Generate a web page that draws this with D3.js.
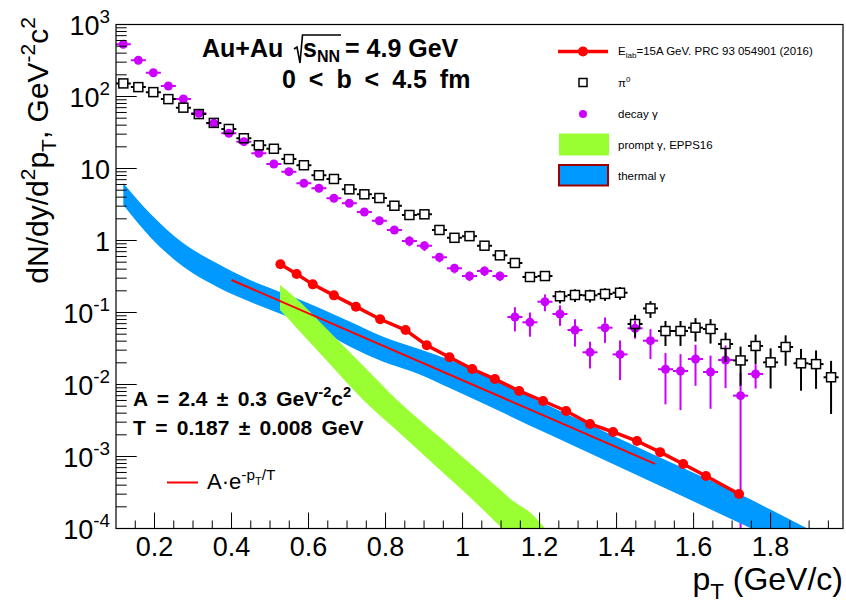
<!DOCTYPE html>
<html><head><meta charset="utf-8">
<script src="https://cdn.jsdelivr.net/npm/d3@7"></script>
<style>body{margin:0;background:#fff}svg{display:block}text{font-family:"Liberation Sans",Arial,Helvetica,sans-serif}</style>
</head><body><svg id="c" width="846" height="607"></svg>
<script>
// ---------------- data ----------------
const binPt = [0.119,0.158,0.197,0.236,0.275,0.315,0.354,0.393,0.432,0.471,0.510,0.549,0.588,0.627,0.666,0.706,0.745,0.784,0.823,0.862,0.901,0.940,0.979,1.018,1.057,1.097,1.136,1.175,1.214,1.253,1.292,1.331,1.370,1.409,1.448,1.488,1.527,1.566,1.605,1.644,1.683,1.722,1.761,1.800,1.839,1.879,1.918,1.957];
const binHalfWidth = 0.0195;
const pi0Val = [152,135,115,92,70,57,43,35.4,26.3,21.0,18.8,13.5,11.1,8.05,7.15,5.14,4.38,3.89,3.04,2.26,2.31,1.40,1.09,1.15,0.847,0.622,0.487,0.311,0.321,0.168,0.175,0.173,0.181,0.188,0.0692,0.114,0.0553,0.0553,0.0615,0.059,0.0365,0.0216,0.0343,0.0203,0.0332,0.0197,0.0192,0.0126];
const pi0Err = [4.6,4.1,3.5,2.8,2.1,1.7,1.3,1.06,0.79,0.63,0.56,0.41,0.33,0.24,0.21,0.15,0.13,0.12,0.09,0.07,0.07,0.14,0.11,0.115,0.085,0.062,0.049,0.04,0.042,0.034,0.035,0.035,0.036,0.038,0.024,0.03,0.021,0.021,0.022,0.022,0.016,0.012,0.015,0.0115,0.015,0.0115,0.0105,0.0087];
const decayVal = [531,318,214,140,92.3,58.4,42.5,30.8,23.6,16.3,11.55,9.03,6.23,5.31,3.86,3.29,2.49,1.88,1.40,0.984,0.847,0.585,0.411,0.321,0.377,0.321,0.0866,0.0731,0.141,0.0953,0.0571,0.028,0.0615,0.0262,0.0603,0.0406,0.0163,0.0154,0.0226,0.0149,0.0219,0.0070,0.014];
const decayErr = [21,13,8.6,5.6,3.7,2.3,1.7,1.2,0.94,0.65,0.46,0.36,0.25,0.21,0.15,0.13,0.1,0.075,0.056,0.15,0.13,0.088,0.062,0.048,0.057,0.048,0.032,0.027,0.037,0.03,0.0235,0.0113,0.0237,0.0147,0.017,0.018,0.011,0.011,0.013,0.0103,0.013,0.0075,0.0052];
const e15Pt = [0.527,0.569,0.611,0.666,0.723,0.786,0.852,0.907,0.966,1.025,1.084,1.147,1.209,1.269,1.331,1.391,1.453,1.513,1.573,1.632,1.718];
const e15Val = [0.467,0.343,0.246,0.173,0.1205,0.0805,0.0571,0.035,0.0239,0.0164,0.0119,0.00813,0.0059,0.00429,0.00283,0.00219,0.00164,0.00115,0.000787,0.000536,0.000301];
const fitPt = [0.40,1.50];
const fitVal = [0.283,0.00079];
const thermalPt = [0.119,0.188,0.275,0.362,0.448,0.535,0.621,0.708,0.794,0.881,0.968,1.227,1.487,1.75,1.93];
const thermalHi = [6.23,2.39,0.914,0.482,0.283,0.185,0.1205,0.0745,0.0461,0.0318,0.0219,4.97e-3,1.12e-3,2.5e-4,8e-5];
const thermalLo = [3.11,1.13,0.432,0.228,0.141,0.0923,0.0603,0.0335,0.0207,0.0143,8.85e-3,2.0e-3,4.53e-4,1.0e-4,3.5e-5];
const promptPt = [0.526,0.578,0.65,0.742,0.83,0.95,1.027,1.103,1.128,1.183,1.214,1.25];
const promptHi = [0.241,0.140,0.0571,0.0182,0.0061,0.00168,7.36e-4,3.26e-4,2.49e-4,1.54e-4,1.0e-4,5.0e-5];
const promptLo = [0.108,0.0542,0.0207,0.0061,0.00227,5.9e-4,2.49e-4,1.0e-4,7.4e-5,3.8e-5,2.6e-5,1.7e-5];
const xTickValues = [0.2,0.4,0.6,0.8,1.0,1.2,1.4,1.6,1.8];
const xTickLabels = ["0.2","0.4","0.6","0.8","1","1.2","1.4","1.6","1.8"];
const yTickPowers = [3,2,1,0,-1,-2,-3,-4];

// ---------------- setup ----------------
const svg = d3.select("#c");
const L=116, R=843, T=24.5, B=528.5;
const x = d3.scaleLinear().domain([0.1,1.988]).range([L,R]);
const y = d3.scaleLog().domain([1e-4,1e3]).range([B,T]);
const C = {blue:"#0099ff", green:"#99ff33", red:"#ff0000", violet:"#cc00ff", border:"#a00000"};

svg.append("defs").append("clipPath").attr("id","clip")
  .append("rect").attr("x",L).attr("y",T).attr("width",R-L).attr("height",B-T);
const plot = svg.append("g").attr("clip-path","url(#clip)");

function rich(t, parts, size){
  let cur=0;
  parts.forEach(([s,k])=>{
    const off = k==="sup"? -0.42*size : k==="sub"? 0.28*size : k==="supsub"? -0.2*size : 0;
    const fs = k==="n"? size : k==="supsub"? 0.5*size : 0.7*size;
    t.append("tspan").attr("dy",off-cur).attr("font-size",fs).text(s);
    cur=off;
  });
  return t;
}

// ---------------- data points: pi0 & decay ----------------
function errBars(g, vals, errs, color, half){
  vals.forEach((v,i)=>{
    const cx=x(binPt[i]), cy=y(v);
    const xl=x(binPt[i]-binHalfWidth), xr=x(binPt[i]+binHalfWidth);
    const yt=y(v+errs[i]), yb=(v-errs[i])>0? y(v-errs[i]) : B+10;
    const seg=(x1,y1,x2,y2)=>g.append("line").attr("x1",x1).attr("y1",y1).attr("x2",x2).attr("y2",y2)
      .attr("stroke",color).attr("stroke-width",2);
    if(cx-half>xl) seg(xl,cy,cx-half,cy);
    if(xr>cx+half) seg(cx+half,cy,xr,cy);
    if(cy-half>yt) seg(cx,yt,cx,cy-half);
    if(yb>cy+half) seg(cx,cy+half,cx,yb);
  });
}
const gDecay = plot.append("g");
errBars(gDecay, decayVal, decayErr, C.violet, 4);
gDecay.selectAll("circle").data(decayVal).join("circle")
  .attr("cx",(d,i)=>x(binPt[i])).attr("cy",d=>y(d)).attr("r",4.5).attr("fill",C.violet);
const gPi0 = plot.append("g");
errBars(gPi0, pi0Val, pi0Err, "#000", 4.5);
gPi0.selectAll("rect").data(pi0Val).join("rect")
  .attr("x",(d,i)=>x(binPt[i])-4.5).attr("y",d=>y(d)-4.5).attr("width",9).attr("height",9)
  .attr("fill","none").attr("stroke","#000").attr("stroke-width",1.5);

// ---------------- bands ----------------
const thermal = thermalPt.map((p,i)=>({p,lo:thermalLo[i],hi:thermalHi[i]}));
plot.append("path").datum(thermal)
  .attr("d",d3.area().x(d=>x(d.p)).y0(d=>y(d.lo)).y1(d=>y(d.hi)).curve(d3.curveMonotoneX))
  .attr("fill",C.blue);
const prompt = promptPt.map((p,i)=>({p,lo:promptLo[i],hi:promptHi[i]}));
plot.append("path").datum(prompt)
  .attr("d",d3.area().x(d=>x(d.p)).y0(d=>y(d.lo)).y1(d=>y(d.hi)).curve(d3.curveMonotoneX))
  .attr("fill",C.green);

// ---------------- fit line ----------------
plot.append("path").datum(fitPt.map((p,i)=>[p,fitVal[i]]))
  .attr("d",d3.line().x(d=>x(d[0])).y(d=>y(d[1])))
  .attr("fill","none").attr("stroke",C.red).attr("stroke-width",2);

// ---------------- E15 data ----------------
const e15 = e15Pt.map((p,i)=>[p,e15Val[i]]);
plot.append("path").datum(e15).attr("d",d3.line().x(d=>x(d[0])).y(d=>y(d[1])))
  .attr("fill","none").attr("stroke",C.red).attr("stroke-width",3.5);
plot.selectAll("circle.e15").data(e15).join("circle").attr("class","e15")
  .attr("cx",d=>x(d[0])).attr("cy",d=>y(d[1])).attr("r",5).attr("fill",C.red);

// ---------------- axes ----------------
const ax = svg.append("g").attr("stroke","#000").attr("stroke-width",1);
const xMinor = d3.range(0.15,1.99,0.05).filter(v=>Math.abs(Math.round(v*5)-v*5)>1e-6);
xMinor.forEach(v=>ax.append("line").attr("x1",x(v)).attr("x2",x(v)).attr("y1",B).attr("y2",B-8));
xTickValues.forEach(v=>ax.append("line").attr("x1",x(v)).attr("x2",x(v)).attr("y1",B).attr("y2",B-16));
yTickPowers.forEach(p=>{
  ax.append("line").attr("x1",L).attr("x2",L+20.7).attr("y1",y(Math.pow(10,p))).attr("y2",y(Math.pow(10,p)));
  if(p<3) for(let k=2;k<=9;k++){ const v=k*Math.pow(10,p);
    ax.append("line").attr("x1",L).attr("x2",L+10.7).attr("y1",y(v)).attr("y2",y(v)); }
});
svg.append("rect").attr("x",L).attr("y",T).attr("width",R-L).attr("height",B-T)
  .attr("fill","none").attr("stroke","#000").attr("stroke-width",1.2);

const LS=27;
svg.selectAll("text.xl").data(xTickValues).join("text").attr("class","xl")
  .attr("x",d=>x(d)).attr("y",556).attr("text-anchor","middle").attr("font-size",LS)
  .text((d,i)=>xTickLabels[i]);
yTickPowers.forEach(p=>{
  const t = svg.append("text").attr("x",110).attr("y",y(Math.pow(10,p))+10).attr("text-anchor","end").attr("font-size",LS);
  if(p===0) t.text("1");
  else if(p===1) t.text("10");
  else rich(t,[["10","n"],[String(p),"sup"]],LS);
});

const xt = svg.append("text").attr("x",843).attr("y",590).attr("text-anchor","end").attr("font-size",32);
rich(xt,[["p","n"],["T","sub"],[" (GeV/c)","n"]],32);
const yt = svg.append("text").attr("transform","translate(48,17) rotate(-90)").attr("text-anchor","end").attr("font-size",30);
rich(yt,[["dN/dy/d","n"],["2","sup"],["p","n"],["T","sub"],[", GeV","n"],["-2","sup"],["c","n"],["2","sup"]],30);

// ---------------- header texts ----------------
function chain(g, x0, yb, pieces){
  let cx=x0;
  pieces.forEach(pc=>{
    const t=g.append("text").attr("x",cx+(pc.dx||0)).attr("y",yb+(pc.dy||0)).attr("font-size",pc.size)
      .attr("font-weight",pc.bold?"bold":"normal").text(pc.s);
    cx += (pc.dx||0) + t.node().getComputedTextLength();
  });
  return cx;
}
const hdr = svg.append("g");
hdr.append("text").attr("x",202).attr("y",57).attr("font-size",25).attr("font-weight","bold").text("Au+Au");
const rx = 295;
const cx2 = chain(hdr,rx,57,[{s:"s",size:25,bold:true,dx:8},{s:"NN",size:16,bold:true,dy:4.5}]);
hdr.append("path").attr("d",`M${rx-1},${49} L${rx+2},${47} L${rx+5},${63} L${rx+7.5},${35} L${cx2+1},${35}`)
  .attr("fill","none").attr("stroke","#000").attr("stroke-width",1.6);
hdr.append("text").attr("x",cx2+5).attr("y",57).attr("font-size",25).attr("font-weight","bold").text("= 4.9 GeV");
hdr.append("text").attr("x",282).attr("y",88).attr("font-size",25).attr("font-weight","bold")
  .attr("word-spacing",6).text("0 < b < 4.5 fm");

// fit parameters
const fp = svg.append("g");
const tA = fp.append("text").attr("x",133).attr("y",406).attr("font-size",21).attr("font-weight","bold").attr("word-spacing",3.5);
rich(tA,[["A = 2.4 ± 0.3 GeV","n"],["-2","sup"],["c","n"],["2","sup"]],21);
fp.append("text").attr("x",133).attr("y",435).attr("font-size",21).attr("font-weight","bold").attr("word-spacing",3.5)
  .text("T = 0.187 ± 0.008 GeV");
fp.append("line").attr("x1",167).attr("x2",198).attr("y1",482.5).attr("y2",482.5).attr("stroke",C.red).attr("stroke-width",2);
const tF = fp.append("text").attr("x",207).attr("y",489).attr("font-size",22);
rich(tF,[["A·e","n"],["-p","sup"],["T","supsub"],["/T","sup"]],22);

// ---------------- legend ----------------
const lg = svg.append("g");
const LX=618, FS=11.5;
lg.append("line").attr("x1",558).attr("x2",608).attr("y1",51.5).attr("y2",51.5).attr("stroke",C.red).attr("stroke-width",3.5);
lg.append("circle").attr("cx",583).attr("cy",51.5).attr("r",5).attr("fill",C.red);
rich(lg.append("text").attr("x",LX).attr("y",55).attr("font-size",FS),[["E","n"],["lab","sub"],["=15A GeV. PRC 93 054901 (2016)","n"]],FS);
lg.append("rect").attr("x",579).attr("y",78.5).attr("width",8).attr("height",8).attr("fill","none").attr("stroke","#000").attr("stroke-width",1.5);
rich(lg.append("text").attr("x",LX).attr("y",87).attr("font-size",FS),[["π","n"],["0","sup"]],FS);
lg.append("circle").attr("cx",583).attr("cy",114).attr("r",4).attr("fill",C.violet);
lg.append("text").attr("x",LX).attr("y",118).attr("font-size",FS).text("decay γ");
lg.append("rect").attr("x",559).attr("y",133.5).attr("width",50).attr("height",22).attr("fill",C.green);
lg.append("text").attr("x",LX).attr("y",149).attr("font-size",FS).text("prompt γ, EPPS16");
lg.append("rect").attr("x",559).attr("y",165).attr("width",49).attr("height",20.5).attr("fill",C.blue).attr("stroke",C.border).attr("stroke-width",2);
lg.append("text").attr("x",LX).attr("y",180).attr("font-size",FS).text("thermal γ");
</script></body></html>
